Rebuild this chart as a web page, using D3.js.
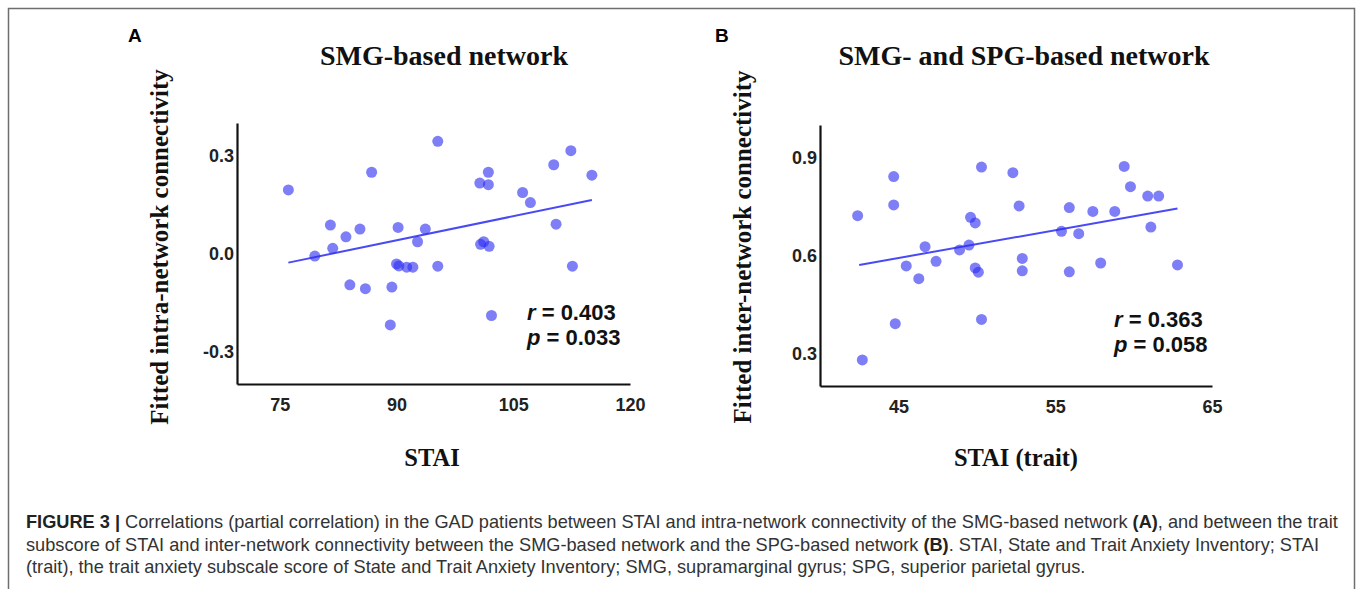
<!DOCTYPE html>
<html>
<head>
<meta charset="utf-8">
<script src="https://cdn.jsdelivr.net/npm/d3@7"></script>
<style>
  body { margin: 0; background: #fff; }
  svg { display: block; }
</style>
</head>
<body>
<svg id="fig"></svg>
<script>
const FIG_WIDTH_PX = 1358;
const FIG_HEIGHT_PX = 589;

// Panel A: STAI vs fitted intra-network connectivity (SMG-based network)
const staiA = [76.1, 79.5, 81.5, 81.8, 83.5, 84.0, 85.3, 86.0, 86.8, 89.2,
  89.4, 90.2, 90.0, 90.3, 91.3, 92.1, 92.7, 93.7, 95.3, 95.3,
  100.7, 101.8, 101.8, 100.8, 101.2, 101.9, 102.2, 106.2, 107.2, 110.2,
  110.5, 112.4, 112.6, 115.1];
const connA = [0.195, -0.008, 0.087, 0.016, 0.051, -0.096, 0.075, -0.108, 0.249, -0.219,
  -0.103, 0.080, -0.032, -0.038, -0.042, -0.042, 0.036, 0.075, 0.344, -0.039,
  0.216, 0.249, 0.211, 0.028, 0.036, 0.022, -0.190, 0.187, 0.156, 0.272,
  0.090, 0.315, -0.039, 0.240];
const fitA = [[76.1, -0.028], [115.1, 0.164]];
const xTicksA = [75, 90, 105, 120];
const yTicksA = [-0.3, 0.0, 0.3];

// Panel B: STAI (trait) vs fitted inter-network connectivity
const staiB = [42.4, 42.7, 44.7, 44.7, 44.8, 45.5, 46.3, 46.7, 47.4, 48.9,
  49.5, 49.6, 49.9, 49.9, 50.1, 50.3, 50.3, 52.3, 52.7, 52.9,
  52.9, 55.4, 55.9, 55.9, 56.5, 57.4, 57.9, 58.8, 59.4, 59.8,
  60.9, 61.1, 61.6, 62.8];
const connB = [0.722, 0.280, 0.842, 0.755, 0.391, 0.568, 0.529, 0.627, 0.582, 0.617,
  0.632, 0.717, 0.700, 0.562, 0.549, 0.871, 0.404, 0.854, 0.752, 0.591,
  0.553, 0.674, 0.747, 0.550, 0.667, 0.735, 0.577, 0.735, 0.873, 0.811,
  0.782, 0.687, 0.782, 0.571];
const fitB = [[42.5, 0.571], [62.8, 0.744]];
const xTicksB = [45, 55, 65];
const yTicksB = [0.3, 0.6, 0.9];

const panels = [
  {letter: 'A', title: 'SMG-based network', xLabel: 'STAI',
   yLabel: 'Fitted intra-network connectivity',
   xs: staiA, ys: connA, fit: fitA, xTicks: xTicksA, yTicks: yTicksA,
   xDomain: [69.5, 120], yDomain: [-0.4, 0.4],
   left: 237, right: 630, top: 123, bottom: 384,
   stat: ['0.403', '0.033'], statX: 527, statY: 320,
   letterX: 128, titleX: 444, yLabelX: 168, xLabelX: 432},
  {letter: 'B', title: 'SMG- and SPG-based network', xLabel: 'STAI (trait)',
   yLabel: 'Fitted inter-network connectivity',
   xs: staiB, ys: connB, fit: fitB, xTicks: xTicksB, yTicks: yTicksB,
   xDomain: [40, 65], yDomain: [0.2, 1.0],
   left: 820, right: 1212, top: 125, bottom: 386,
   stat: ['0.363', '0.058'], statX: 1114, statY: 327,
   letterX: 715, titleX: 1024, yLabelX: 751, xLabelX: 1016}
];

let svg = d3.select('#fig')
    .attr('width', FIG_WIDTH_PX)
    .attr('height', FIG_HEIGHT_PX);

svg.append('rect')
    .attr('x', 8.5).attr('y', 8.5)
    .attr('width', 1346).attr('height', 620)
    .attr('fill', 'none')
    .attr('stroke', '#6e6e6e')
    .attr('stroke-width', 1.5);

// tick labels use a plain hyphen, like the original figure
let fmtY = function(v) { return d3.format('.1f')(v).replace('\u2212', '-'); };

function drawPanel(p) {
  let g = svg.append('g');

  let xScale = d3.scaleLinear().domain(p.xDomain).range([p.left, p.right]);
  let yScale = d3.scaleLinear().domain(p.yDomain).range([p.bottom, p.top]);

  // axes: plain lines, no tick marks
  let xAxis = g.append('g')
      .attr('transform', 'translate(0,' + p.bottom + ')')
      .call(d3.axisBottom(xScale).tickValues(p.xTicks).tickSize(0).tickPadding(14)
        .tickFormat(d3.format('d')));
  let yAxis = g.append('g')
      .attr('transform', 'translate(' + p.left + ',0)')
      .call(d3.axisLeft(yScale).tickValues(p.yTicks).tickSize(0).tickPadding(3)
        .tickFormat(fmtY));
  [xAxis, yAxis].forEach(function(a) {
    a.select('.domain').attr('stroke', '#111').attr('stroke-width', 2.2);
    a.selectAll('text')
        .attr('font-family', 'Liberation Sans, Arial, sans-serif')
        .attr('font-weight', 'bold')
        .attr('font-size', 18)
        .attr('fill', '#222');
  });

  let pts = p.xs.map(function(x, i) { return {x: x, y: p.ys[i]}; });

  g.append('path')
      .attr('d', d3.line()
        .x(function(d) { return xScale(d[0]); })
        .y(function(d) { return yScale(d[1]); })(p.fit))
      .attr('fill', 'none')
      .attr('stroke', '#4a4af5')
      .attr('stroke-width', 2);

  g.selectAll('circle.pt')
      .data(pts)
      .enter().append('circle')
      .attr('class', 'pt')
      .attr('cx', function(d) { return xScale(d.x); })
      .attr('cy', function(d) { return yScale(d.y); })
      .attr('r', 5.5)
      .attr('fill', '#2f2ff2')
      .attr('fill-opacity', 0.62);

  // r and p annotation
  let statFont = 'Liberation Sans, Arial, sans-serif';
  ['r', 'p'].forEach(function(sym, i) {
    let t = g.append('text')
        .attr('x', p.statX)
        .attr('y', p.statY + i * 25)
        .attr('font-family', statFont)
        .attr('font-weight', 'bold')
        .attr('font-size', 22)
        .attr('fill', '#111');
    t.append('tspan').attr('font-style', 'italic').text(sym);
    t.append('tspan').text(' = ' + p.stat[i]);
  });

  g.append('text')
      .attr('x', p.letterX).attr('y', 42)
      .attr('font-family', 'Liberation Sans, Arial, sans-serif')
      .attr('font-weight', 'bold')
      .attr('font-size', 19)
      .text(p.letter);

  g.append('text')
      .attr('x', p.titleX).attr('y', 65)
      .attr('text-anchor', 'middle')
      .attr('font-family', 'Liberation Serif, Times New Roman, serif')
      .attr('font-weight', 'bold')
      .attr('font-size', 28)
      .attr('fill', '#111')
      .text(p.title);

  g.append('text')
      .attr('transform', 'translate(' + p.yLabelX + ',' + 247 + ') rotate(-90)')
      .attr('text-anchor', 'middle')
      .attr('font-family', 'Liberation Serif, Times New Roman, serif')
      .attr('font-weight', 'bold')
      .attr('font-size', 25)
      .attr('fill', '#111')
      .text(p.yLabel);

  g.append('text')
      .attr('x', p.xLabelX).attr('y', 466)
      .attr('text-anchor', 'middle')
      .attr('font-family', 'Liberation Serif, Times New Roman, serif')
      .attr('font-weight', 'bold')
      .attr('font-size', 24.5)
      .attr('fill', '#111')
      .text(p.xLabel);
}

panels.forEach(drawPanel);

// caption
const captionLines = [
  [['FIGURE 3 | ', true], ['Correlations (partial correlation) in the GAD patients between STAI and intra-network connectivity of the SMG-based network ', false], ['(A)', true], [', and between the trait', false]],
  [['subscore of STAI and inter-network connectivity between the SMG-based network and the SPG-based network ', false], ['(B)', true], ['. STAI, State and Trait Anxiety Inventory; STAI', false]],
  [['(trait), the trait anxiety subscale score of State and Trait Anxiety Inventory; SMG, supramarginal gyrus; SPG, superior parietal gyrus.', false]]
];

let caption = svg.append('g');
captionLines.forEach(function(line, i) {
  let t = caption.append('text')
      .attr('x', 26)
      .attr('y', 528 + i * 22.5)
      .attr('font-family', 'Liberation Sans, Arial, sans-serif')
      .attr('font-size', 18.2)
      .attr('fill', '#333');
  line.forEach(function(seg) {
    t.append('tspan')
        .attr('font-weight', seg[1] ? 'bold' : 'normal')
        .attr('fill', seg[1] ? '#222' : '#333')
        .text(seg[0]);
  });
});
</script>
</body>
</html>
